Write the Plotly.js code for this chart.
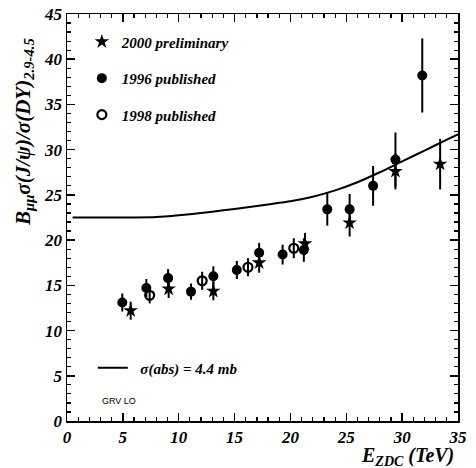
<!DOCTYPE html>
<html>
<head>
<meta charset="utf-8">
<script src="https://cdn.plot.ly/plotly-3.0.1.min.js"></script>
<style>
  html, body { margin: 0; padding: 0; background: #fff; }
  #chart { width: 476px; height: 468px; }
</style>
</head>
<body>
<div id="chart"></div>
<script>
// 2000 preliminary (stars)
const e2000 = [5.7, 9.1, 13.1, 17.2, 21.3, 25.3, 29.4, 33.4];
const r2000 = [12.2, 14.6, 14.35, 17.5, 19.6, 21.9, 27.6, 28.4];
const err2000 = [1.0, 1.0, 1.0, 1.1, 1.2, 1.5, 2.0, 2.8];

// 1996 published (filled circles)
const e1996 = [4.95, 7.1, 9.05, 11.1, 13.1, 15.2, 17.2, 19.3, 21.2, 23.3, 25.3, 27.4, 29.4, 31.8];
const r1996 = [13.1, 14.7, 15.8, 14.3, 16.0, 16.7, 18.6, 18.4, 18.9, 23.4, 23.4, 26.0, 28.9, 38.2];
const err1996 = [1.0, 1.0, 1.0, 0.9, 1.1, 1.0, 1.1, 1.1, 1.3, 1.8, 1.7, 2.2, 3.0, 4.1];

// 1998 published (open circles)
const e1998 = [7.4, 12.1, 16.2, 20.3];
const r1998 = [13.9, 15.5, 17.0, 19.1];
const err1998 = [0.9, 1.0, 1.0, 1.1];

// absorption model curve, sigma(abs) = 4.4 mb, GRV LO
const eCurve = [0.5, 3, 6, 8, 10, 12, 14, 16, 18, 20, 22, 24, 26, 28, 30, 32, 34, 35];
const rCurve = [22.5, 22.5, 22.5, 22.55, 22.75, 23.0, 23.3, 23.6, 23.95, 24.3, 24.8, 25.5, 26.4, 27.5, 28.7, 29.9, 31.1, 31.7];

const serif = "Liberation Serif, Times New Roman, serif";
const bar = (arr) => ({ type: 'data', array: arr, visible: true, color: '#000', thickness: 2, width: 0 });

const traces = [
  {
    x: e2000, y: r2000, error_y: bar(err2000),
    mode: 'markers', type: 'scatter', name: '2000 preliminary',
    marker: { symbol: 'star', size: 11, color: '#000' },
    legend: 'legend', legendgroup: 'a'
  },
  {
    x: e1996, y: r1996, error_y: bar(err1996),
    mode: 'markers', type: 'scatter', name: '1996 published',
    marker: { symbol: 'circle', size: 10, color: '#000' },
    legend: 'legend', legendgroup: 'b'
  },
  {
    x: e1998, y: r1998, error_y: bar(err1998),
    mode: 'markers', type: 'scatter', name: '1998 published',
    marker: { symbol: 'circle-open', size: 9, color: '#000', line: { width: 2.2, color: '#000' } },
    legend: 'legend', legendgroup: 'c'
  },
  {
    x: eCurve, y: rCurve, mode: 'lines', type: 'scatter',
    name: '\u2002σ(abs) = 4.4 mb',
    line: { color: '#000', width: 2, shape: 'spline', smoothing: 0.6 },
    legend: 'legend2'
  }
];

const axisCommon = {
  showline: true, linecolor: '#000', linewidth: 1.5, mirror: 'allticks',
  ticks: 'inside', ticklen: 8, tickwidth: 1.5, tickcolor: '#000',
  showgrid: false, zeroline: false, dtick: 5, tick0: 0,
  minor: { ticks: 'inside', ticklen: 4, tickwidth: 1.2, tickcolor: '#000', dtick: 1, showgrid: false },
  tickfont: { family: serif, size: 17, color: '#000', weight: 'bold', style: 'italic' }
};

const layout = {
  width: 476, height: 468,
  margin: { l: 67, r: 18, t: 14, b: 47 },
  paper_bgcolor: '#fff', plot_bgcolor: '#fff',
  xaxis: Object.assign({}, axisCommon, { range: [0, 35] }),
  yaxis: Object.assign({}, axisCommon, { range: [0, 45] }),
  legend: {
    x: 0.038, y: 0.972, xanchor: 'left', yanchor: 'top',
    bgcolor: 'rgba(0,0,0,0)', borderwidth: 0,
    traceorder: 'grouped', tracegroupgap: 14,
    font: { family: serif, size: 15, color: '#000', weight: 'bold', style: 'italic' }
  },
  legend2: {
    x: 0.066, y: 0.13, xanchor: 'left', yanchor: 'middle',
    bgcolor: 'rgba(0,0,0,0)', borderwidth: 0,
    font: { family: serif, size: 15, color: '#000', weight: 'bold', style: 'italic' }
  },
  annotations: [
    {
      xref: 'paper', yref: 'paper', x: -0.11, y: 0.71,
      xanchor: 'center', yanchor: 'middle', textangle: -90,
      text: 'B<sub>μμ</sub>σ(J/ψ)/σ(DY)<sub>2.9-4.5</sub>', showarrow: false,
      font: { family: serif, size: 21, color: '#000', weight: 'bold', style: 'italic' }
    },
    {
      xref: 'paper', yref: 'paper', x: 0.87, y: -0.087,
      xanchor: 'center', yanchor: 'middle',
      text: 'E<sub>ZDC</sub> (TeV)', showarrow: false,
      font: { family: serif, size: 20, color: '#000', weight: 'bold', style: 'italic' }
    },
    {
      xref: 'paper', yref: 'paper', x: 0.085, y: 0.049,
      xanchor: 'left', yanchor: 'middle',
      text: 'GRV LO', showarrow: false,
      font: { family: 'Liberation Sans, Arial, sans-serif', size: 9, color: '#000' }
    }
  ]
};

Plotly.newPlot('chart', traces, layout, { displayModeBar: false, staticPlot: true });
</script>
</body>
</html>
